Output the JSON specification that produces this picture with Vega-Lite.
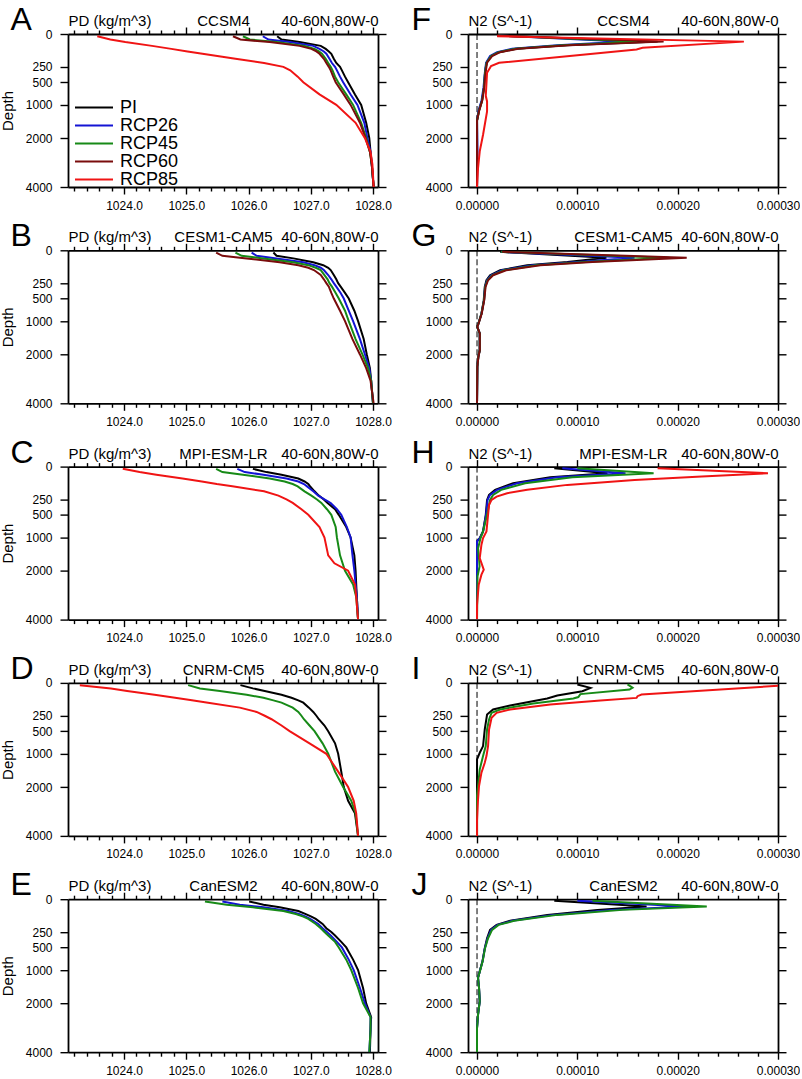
{
"$schema":"https://vega.github.io/schema/vega-lite/v6.json",
"padding":{"left":0,"top":3,"right":0,"bottom":0},
"background":"white",
"config":{"font":"Liberation Sans","view":{"stroke":null},
"axis":{"grid":false,"domainColor":"black","domainWidth":1.8,"tickColor":"black","tickWidth":1.4,"labelColor":"black","labelFont":"Liberation Sans","labelFontSize":12,"titleFont":"Liberation Sans","titleFontSize":15,"titleFontWeight":"normal","titleColor":"black","labelFlush":false,"labelOverlap":false}},
"columns":2,
"spacing":{"row":63.3,"column":90},
"bounds":"flush",
"resolve":{"scale":{"color":"independent"},"legend":{"color":"independent"}},
"datasets":{
"A":[
{"s":"PI","d":2,"v":1026.46},{"s":"PI","d":10,"v":1026.53},{"s":"PI","d":20,"v":1026.82},{"s":"PI","d":40,"v":1027.16},{"s":"PI","d":60,"v":1027.24},{"s":"PI","d":80,"v":1027.29},{"s":"PI","d":100,"v":1027.33},{"s":"PI","d":150,"v":1027.37},{"s":"PI","d":200,"v":1027.41},{"s":"PI","d":250,"v":1027.47},{"s":"PI","d":300,"v":1027.50},{"s":"PI","d":400,"v":1027.55},{"s":"PI","d":500,"v":1027.60},{"s":"PI","d":750,"v":1027.71},{"s":"PI","d":1000,"v":1027.81},{"s":"PI","d":1500,"v":1027.89},{"s":"PI","d":2000,"v":1027.94},{"s":"PI","d":2500,"v":1027.96},{"s":"PI","d":3000,"v":1027.98},{"s":"PI","d":4000,"v":1028.01},
{"s":"RCP26","d":2,"v":1026.23},{"s":"RCP26","d":10,"v":1026.32},{"s":"RCP26","d":20,"v":1026.66},{"s":"RCP26","d":40,"v":1027.04},{"s":"RCP26","d":60,"v":1027.14},{"s":"RCP26","d":80,"v":1027.21},{"s":"RCP26","d":100,"v":1027.25},{"s":"RCP26","d":150,"v":1027.30},{"s":"RCP26","d":200,"v":1027.34},{"s":"RCP26","d":250,"v":1027.39},{"s":"RCP26","d":300,"v":1027.42},{"s":"RCP26","d":400,"v":1027.47},{"s":"RCP26","d":500,"v":1027.52},{"s":"RCP26","d":750,"v":1027.64},{"s":"RCP26","d":1000,"v":1027.75},{"s":"RCP26","d":1500,"v":1027.86},{"s":"RCP26","d":2000,"v":1027.91},{"s":"RCP26","d":2500,"v":1027.96},{"s":"RCP26","d":3000,"v":1027.98},{"s":"RCP26","d":4000,"v":1028.01},
{"s":"RCP45","d":2,"v":1025.91},{"s":"RCP45","d":10,"v":1026.02},{"s":"RCP45","d":20,"v":1026.45},{"s":"RCP45","d":40,"v":1026.90},{"s":"RCP45","d":60,"v":1027.06},{"s":"RCP45","d":80,"v":1027.13},{"s":"RCP45","d":100,"v":1027.18},{"s":"RCP45","d":150,"v":1027.24},{"s":"RCP45","d":200,"v":1027.28},{"s":"RCP45","d":250,"v":1027.32},{"s":"RCP45","d":300,"v":1027.35},{"s":"RCP45","d":400,"v":1027.39},{"s":"RCP45","d":500,"v":1027.44},{"s":"RCP45","d":750,"v":1027.57},{"s":"RCP45","d":1000,"v":1027.68},{"s":"RCP45","d":1500,"v":1027.81},{"s":"RCP45","d":2000,"v":1027.89},{"s":"RCP45","d":2500,"v":1027.95},{"s":"RCP45","d":3000,"v":1027.98},{"s":"RCP45","d":4000,"v":1028.01},
{"s":"RCP60","d":2,"v":1025.75},{"s":"RCP60","d":10,"v":1025.87},{"s":"RCP60","d":20,"v":1026.34},{"s":"RCP60","d":40,"v":1026.82},{"s":"RCP60","d":60,"v":1027.01},{"s":"RCP60","d":80,"v":1027.09},{"s":"RCP60","d":100,"v":1027.14},{"s":"RCP60","d":150,"v":1027.21},{"s":"RCP60","d":200,"v":1027.25},{"s":"RCP60","d":250,"v":1027.29},{"s":"RCP60","d":300,"v":1027.32},{"s":"RCP60","d":400,"v":1027.36},{"s":"RCP60","d":500,"v":1027.40},{"s":"RCP60","d":750,"v":1027.53},{"s":"RCP60","d":1000,"v":1027.64},{"s":"RCP60","d":1500,"v":1027.79},{"s":"RCP60","d":2000,"v":1027.88},{"s":"RCP60","d":2500,"v":1027.95},{"s":"RCP60","d":3000,"v":1027.98},{"s":"RCP60","d":4000,"v":1028.01},
{"s":"RCP85","d":2,"v":1023.57},{"s":"RCP85","d":10,"v":1023.78},{"s":"RCP85","d":20,"v":1024.02},{"s":"RCP85","d":40,"v":1024.45},{"s":"RCP85","d":60,"v":1024.76},{"s":"RCP85","d":80,"v":1025.02},{"s":"RCP85","d":100,"v":1025.26},{"s":"RCP85","d":150,"v":1025.79},{"s":"RCP85","d":200,"v":1026.25},{"s":"RCP85","d":250,"v":1026.56},{"s":"RCP85","d":300,"v":1026.67},{"s":"RCP85","d":400,"v":1026.79},{"s":"RCP85","d":500,"v":1026.88},{"s":"RCP85","d":750,"v":1027.14},{"s":"RCP85","d":1000,"v":1027.41},{"s":"RCP85","d":1500,"v":1027.72},{"s":"RCP85","d":2000,"v":1027.87},{"s":"RCP85","d":2500,"v":1027.96},{"s":"RCP85","d":3000,"v":1027.99},{"s":"RCP85","d":4000,"v":1028.01}
],
"B":[
{"s":"PI","d":2,"v":1026.40},{"s":"PI","d":10,"v":1026.45},{"s":"PI","d":20,"v":1026.72},{"s":"PI","d":40,"v":1027.04},{"s":"PI","d":60,"v":1027.20},{"s":"PI","d":80,"v":1027.28},{"s":"PI","d":100,"v":1027.32},{"s":"PI","d":150,"v":1027.37},{"s":"PI","d":200,"v":1027.41},{"s":"PI","d":250,"v":1027.44},{"s":"PI","d":300,"v":1027.48},{"s":"PI","d":400,"v":1027.55},{"s":"PI","d":500,"v":1027.61},{"s":"PI","d":750,"v":1027.70},{"s":"PI","d":1000,"v":1027.76},{"s":"PI","d":1500,"v":1027.85},{"s":"PI","d":2000,"v":1027.90},{"s":"PI","d":2500,"v":1027.95},{"s":"PI","d":3000,"v":1027.97},{"s":"PI","d":4000,"v":1028.00},
{"s":"RCP26","d":2,"v":1026.05},{"s":"RCP26","d":10,"v":1026.13},{"s":"RCP26","d":20,"v":1026.45},{"s":"RCP26","d":40,"v":1026.88},{"s":"RCP26","d":60,"v":1027.06},{"s":"RCP26","d":80,"v":1027.16},{"s":"RCP26","d":100,"v":1027.21},{"s":"RCP26","d":150,"v":1027.28},{"s":"RCP26","d":200,"v":1027.33},{"s":"RCP26","d":250,"v":1027.37},{"s":"RCP26","d":300,"v":1027.41},{"s":"RCP26","d":400,"v":1027.48},{"s":"RCP26","d":500,"v":1027.53},{"s":"RCP26","d":750,"v":1027.61},{"s":"RCP26","d":1000,"v":1027.68},{"s":"RCP26","d":1500,"v":1027.79},{"s":"RCP26","d":2000,"v":1027.87},{"s":"RCP26","d":2500,"v":1027.94},{"s":"RCP26","d":3000,"v":1027.97},{"s":"RCP26","d":4000,"v":1028.00},
{"s":"RCP45","d":2,"v":1025.79},{"s":"RCP45","d":10,"v":1025.89},{"s":"RCP45","d":20,"v":1026.24},{"s":"RCP45","d":40,"v":1026.72},{"s":"RCP45","d":60,"v":1026.96},{"s":"RCP45","d":80,"v":1027.08},{"s":"RCP45","d":100,"v":1027.16},{"s":"RCP45","d":150,"v":1027.22},{"s":"RCP45","d":200,"v":1027.27},{"s":"RCP45","d":250,"v":1027.30},{"s":"RCP45","d":300,"v":1027.34},{"s":"RCP45","d":400,"v":1027.40},{"s":"RCP45","d":500,"v":1027.45},{"s":"RCP45","d":750,"v":1027.55},{"s":"RCP45","d":1000,"v":1027.61},{"s":"RCP45","d":1500,"v":1027.72},{"s":"RCP45","d":2000,"v":1027.83},{"s":"RCP45","d":2500,"v":1027.92},{"s":"RCP45","d":3000,"v":1027.97},{"s":"RCP45","d":4000,"v":1028.00},
{"s":"RCP60","d":2,"v":1025.48},{"s":"RCP60","d":10,"v":1025.58},{"s":"RCP60","d":20,"v":1025.97},{"s":"RCP60","d":40,"v":1026.50},{"s":"RCP60","d":60,"v":1026.80},{"s":"RCP60","d":80,"v":1026.96},{"s":"RCP60","d":100,"v":1027.05},{"s":"RCP60","d":150,"v":1027.16},{"s":"RCP60","d":200,"v":1027.21},{"s":"RCP60","d":250,"v":1027.25},{"s":"RCP60","d":300,"v":1027.29},{"s":"RCP60","d":400,"v":1027.33},{"s":"RCP60","d":500,"v":1027.37},{"s":"RCP60","d":750,"v":1027.47},{"s":"RCP60","d":1000,"v":1027.55},{"s":"RCP60","d":1500,"v":1027.67},{"s":"RCP60","d":2000,"v":1027.79},{"s":"RCP60","d":2500,"v":1027.89},{"s":"RCP60","d":3000,"v":1027.96},{"s":"RCP60","d":4000,"v":1028.01}
],
"C":[
{"s":"PI","d":2,"v":1026.07},{"s":"PI","d":10,"v":1026.29},{"s":"PI","d":20,"v":1026.53},{"s":"PI","d":40,"v":1026.80},{"s":"PI","d":60,"v":1026.90},{"s":"PI","d":80,"v":1026.96},{"s":"PI","d":100,"v":1026.99},{"s":"PI","d":150,"v":1027.06},{"s":"PI","d":200,"v":1027.13},{"s":"PI","d":250,"v":1027.21},{"s":"PI","d":300,"v":1027.27},{"s":"PI","d":400,"v":1027.39},{"s":"PI","d":500,"v":1027.45},{"s":"PI","d":750,"v":1027.57},{"s":"PI","d":1000,"v":1027.64},{"s":"PI","d":1500,"v":1027.70},{"s":"PI","d":2000,"v":1027.72},{"s":"PI","d":2500,"v":1027.73},{"s":"PI","d":3000,"v":1027.74},{"s":"PI","d":4000,"v":1027.76},
{"s":"RCP26","d":2,"v":1025.82},{"s":"RCP26","d":10,"v":1025.94},{"s":"RCP26","d":20,"v":1026.24},{"s":"RCP26","d":40,"v":1026.61},{"s":"RCP26","d":60,"v":1026.80},{"s":"RCP26","d":80,"v":1026.89},{"s":"RCP26","d":100,"v":1026.94},{"s":"RCP26","d":150,"v":1027.04},{"s":"RCP26","d":200,"v":1027.12},{"s":"RCP26","d":250,"v":1027.22},{"s":"RCP26","d":300,"v":1027.32},{"s":"RCP26","d":400,"v":1027.42},{"s":"RCP26","d":500,"v":1027.49},{"s":"RCP26","d":750,"v":1027.58},{"s":"RCP26","d":1000,"v":1027.64},{"s":"RCP26","d":1500,"v":1027.67},{"s":"RCP26","d":2000,"v":1027.70},{"s":"RCP26","d":2500,"v":1027.72},{"s":"RCP26","d":3000,"v":1027.74},{"s":"RCP26","d":4000,"v":1027.76},
{"s":"RCP45","d":2,"v":1025.48},{"s":"RCP45","d":10,"v":1025.58},{"s":"RCP45","d":20,"v":1025.91},{"s":"RCP45","d":40,"v":1026.34},{"s":"RCP45","d":60,"v":1026.58},{"s":"RCP45","d":80,"v":1026.71},{"s":"RCP45","d":100,"v":1026.79},{"s":"RCP45","d":150,"v":1026.90},{"s":"RCP45","d":200,"v":1027.01},{"s":"RCP45","d":250,"v":1027.10},{"s":"RCP45","d":300,"v":1027.17},{"s":"RCP45","d":400,"v":1027.26},{"s":"RCP45","d":500,"v":1027.33},{"s":"RCP45","d":750,"v":1027.40},{"s":"RCP45","d":1000,"v":1027.42},{"s":"RCP45","d":1500,"v":1027.47},{"s":"RCP45","d":2000,"v":1027.55},{"s":"RCP45","d":2500,"v":1027.68},{"s":"RCP45","d":3000,"v":1027.73},{"s":"RCP45","d":4000,"v":1027.76},
{"s":"RCP85","d":2,"v":1023.98},{"s":"RCP85","d":10,"v":1024.25},{"s":"RCP85","d":20,"v":1024.52},{"s":"RCP85","d":40,"v":1024.94},{"s":"RCP85","d":60,"v":1025.25},{"s":"RCP85","d":80,"v":1025.49},{"s":"RCP85","d":100,"v":1025.74},{"s":"RCP85","d":150,"v":1026.25},{"s":"RCP85","d":200,"v":1026.48},{"s":"RCP85","d":250,"v":1026.61},{"s":"RCP85","d":300,"v":1026.71},{"s":"RCP85","d":400,"v":1026.85},{"s":"RCP85","d":500,"v":1026.96},{"s":"RCP85","d":750,"v":1027.14},{"s":"RCP85","d":1000,"v":1027.22},{"s":"RCP85","d":1500,"v":1027.28},{"s":"RCP85","d":1750,"v":1027.38},{"s":"RCP85","d":2000,"v":1027.60},{"s":"RCP85","d":2500,"v":1027.71},{"s":"RCP85","d":3000,"v":1027.73},{"s":"RCP85","d":4000,"v":1027.76}
],
"D":[
{"s":"PI","d":2,"v":1025.87},{"s":"PI","d":10,"v":1026.07},{"s":"PI","d":20,"v":1026.26},{"s":"PI","d":40,"v":1026.53},{"s":"PI","d":60,"v":1026.69},{"s":"PI","d":80,"v":1026.80},{"s":"PI","d":100,"v":1026.88},{"s":"PI","d":150,"v":1026.97},{"s":"PI","d":200,"v":1027.04},{"s":"PI","d":250,"v":1027.09},{"s":"PI","d":300,"v":1027.13},{"s":"PI","d":400,"v":1027.22},{"s":"PI","d":500,"v":1027.28},{"s":"PI","d":750,"v":1027.39},{"s":"PI","d":1000,"v":1027.44},{"s":"PI","d":1500,"v":1027.49},{"s":"PI","d":2000,"v":1027.53},{"s":"PI","d":2500,"v":1027.60},{"s":"PI","d":3000,"v":1027.71},{"s":"PI","d":4000,"v":1027.76},
{"s":"RCP45","d":2,"v":1025.03},{"s":"RCP45","d":10,"v":1025.22},{"s":"RCP45","d":20,"v":1025.54},{"s":"RCP45","d":40,"v":1025.97},{"s":"RCP45","d":60,"v":1026.24},{"s":"RCP45","d":80,"v":1026.40},{"s":"RCP45","d":100,"v":1026.53},{"s":"RCP45","d":150,"v":1026.71},{"s":"RCP45","d":200,"v":1026.80},{"s":"RCP45","d":250,"v":1026.85},{"s":"RCP45","d":300,"v":1026.89},{"s":"RCP45","d":400,"v":1026.98},{"s":"RCP45","d":500,"v":1027.06},{"s":"RCP45","d":750,"v":1027.19},{"s":"RCP45","d":1000,"v":1027.28},{"s":"RCP45","d":1500,"v":1027.39},{"s":"RCP45","d":2000,"v":1027.52},{"s":"RCP45","d":2500,"v":1027.65},{"s":"RCP45","d":3000,"v":1027.72},{"s":"RCP45","d":4000,"v":1027.76},
{"s":"RCP85","d":2,"v":1023.29},{"s":"RCP85","d":10,"v":1023.79},{"s":"RCP85","d":20,"v":1024.05},{"s":"RCP85","d":40,"v":1024.49},{"s":"RCP85","d":60,"v":1024.82},{"s":"RCP85","d":80,"v":1025.09},{"s":"RCP85","d":100,"v":1025.35},{"s":"RCP85","d":150,"v":1025.86},{"s":"RCP85","d":200,"v":1026.13},{"s":"RCP85","d":250,"v":1026.26},{"s":"RCP85","d":300,"v":1026.37},{"s":"RCP85","d":400,"v":1026.53},{"s":"RCP85","d":500,"v":1026.66},{"s":"RCP85","d":750,"v":1026.98},{"s":"RCP85","d":1000,"v":1027.25},{"s":"RCP85","d":1500,"v":1027.44},{"s":"RCP85","d":2000,"v":1027.60},{"s":"RCP85","d":2500,"v":1027.69},{"s":"RCP85","d":3000,"v":1027.73},{"s":"RCP85","d":4000,"v":1027.76}
],
"E":[
{"s":"PI","d":2,"v":1026.01},{"s":"PI","d":10,"v":1026.24},{"s":"PI","d":20,"v":1026.50},{"s":"PI","d":40,"v":1026.80},{"s":"PI","d":60,"v":1026.92},{"s":"PI","d":80,"v":1027.01},{"s":"PI","d":100,"v":1027.08},{"s":"PI","d":150,"v":1027.19},{"s":"PI","d":200,"v":1027.25},{"s":"PI","d":250,"v":1027.33},{"s":"PI","d":300,"v":1027.39},{"s":"PI","d":400,"v":1027.49},{"s":"PI","d":500,"v":1027.57},{"s":"PI","d":750,"v":1027.68},{"s":"PI","d":1000,"v":1027.76},{"s":"PI","d":1500,"v":1027.84},{"s":"PI","d":2000,"v":1027.89},{"s":"PI","d":2500,"v":1027.97},{"s":"PI","d":3000,"v":1027.96},{"s":"PI","d":4000,"v":1027.95},
{"s":"RCP26","d":2,"v":1025.58},{"s":"RCP26","d":10,"v":1025.86},{"s":"RCP26","d":20,"v":1026.24},{"s":"RCP26","d":40,"v":1026.64},{"s":"RCP26","d":60,"v":1026.81},{"s":"RCP26","d":80,"v":1026.92},{"s":"RCP26","d":100,"v":1026.99},{"s":"RCP26","d":150,"v":1027.12},{"s":"RCP26","d":200,"v":1027.19},{"s":"RCP26","d":250,"v":1027.26},{"s":"RCP26","d":300,"v":1027.32},{"s":"RCP26","d":400,"v":1027.42},{"s":"RCP26","d":500,"v":1027.50},{"s":"RCP26","d":750,"v":1027.61},{"s":"RCP26","d":1000,"v":1027.69},{"s":"RCP26","d":1500,"v":1027.79},{"s":"RCP26","d":2000,"v":1027.87},{"s":"RCP26","d":2500,"v":1027.96},{"s":"RCP26","d":3000,"v":1027.96},{"s":"RCP26","d":4000,"v":1027.94},
{"s":"RCP45","d":2,"v":1025.30},{"s":"RCP45","d":10,"v":1025.65},{"s":"RCP45","d":20,"v":1026.07},{"s":"RCP45","d":40,"v":1026.56},{"s":"RCP45","d":60,"v":1026.76},{"s":"RCP45","d":80,"v":1026.88},{"s":"RCP45","d":100,"v":1026.96},{"s":"RCP45","d":150,"v":1027.08},{"s":"RCP45","d":200,"v":1027.16},{"s":"RCP45","d":250,"v":1027.22},{"s":"RCP45","d":300,"v":1027.28},{"s":"RCP45","d":400,"v":1027.39},{"s":"RCP45","d":500,"v":1027.45},{"s":"RCP45","d":750,"v":1027.57},{"s":"RCP45","d":1000,"v":1027.65},{"s":"RCP45","d":1500,"v":1027.76},{"s":"RCP45","d":2000,"v":1027.84},{"s":"RCP45","d":2500,"v":1027.96},{"s":"RCP45","d":3000,"v":1027.96},{"s":"RCP45","d":4000,"v":1027.94}
],
"F":[
{"s":"PI","d":1,"v":2.0e-5},{"s":"PI","d":18,"v":18.0e-5},{"s":"PI","d":36,"v":8.9e-5},{"s":"PI","d":59,"v":3.9e-5},{"s":"PI","d":86,"v":2.2e-5},{"s":"PI","d":122,"v":1.4e-5},{"s":"PI","d":197,"v":0.94e-5},{"s":"PI","d":336,"v":0.8e-5},{"s":"PI","d":596,"v":0.7e-5},{"s":"PI","d":892,"v":0.5e-5},{"s":"PI","d":1147,"v":0.2e-5},{"s":"PI","d":1430,"v":0},{"s":"PI","d":2500,"v":0},{"s":"PI","d":4000,"v":0},
{"s":"RCP26","d":1,"v":2.2e-5},{"s":"RCP26","d":18,"v":14.5e-5},{"s":"RCP26","d":36,"v":8.0e-5},{"s":"RCP26","d":59,"v":3.5e-5},{"s":"RCP26","d":86,"v":2.0e-5},{"s":"RCP26","d":122,"v":1.3e-5},{"s":"RCP26","d":197,"v":0.9e-5},{"s":"RCP26","d":336,"v":0.78e-5},{"s":"RCP26","d":596,"v":0.65e-5},{"s":"RCP26","d":892,"v":0.45e-5},{"s":"RCP26","d":1147,"v":0.15e-5},{"s":"RCP26","d":1430,"v":0},{"s":"RCP26","d":2500,"v":0.05e-5},{"s":"RCP26","d":4000,"v":0},
{"s":"RCP45","d":1,"v":2.1e-5},{"s":"RCP45","d":18,"v":16.0e-5},{"s":"RCP45","d":36,"v":8.5e-5},{"s":"RCP45","d":59,"v":3.8e-5},{"s":"RCP45","d":86,"v":2.15e-5},{"s":"RCP45","d":122,"v":1.4e-5},{"s":"RCP45","d":197,"v":0.95e-5},{"s":"RCP45","d":336,"v":0.8e-5},{"s":"RCP45","d":596,"v":0.7e-5},{"s":"RCP45","d":892,"v":0.5e-5},{"s":"RCP45","d":1147,"v":0.2e-5},{"s":"RCP45","d":1430,"v":0},{"s":"RCP45","d":4000,"v":0},
{"s":"RCP60","d":1,"v":2.0e-5},{"s":"RCP60","d":18,"v":18.6e-5},{"s":"RCP60","d":36,"v":9.2e-5},{"s":"RCP60","d":59,"v":4.1e-5},{"s":"RCP60","d":86,"v":2.3e-5},{"s":"RCP60","d":122,"v":1.5e-5},{"s":"RCP60","d":197,"v":1.0e-5},{"s":"RCP60","d":336,"v":0.85e-5},{"s":"RCP60","d":596,"v":0.72e-5},{"s":"RCP60","d":892,"v":0.52e-5},{"s":"RCP60","d":1147,"v":0.22e-5},{"s":"RCP60","d":1430,"v":0},{"s":"RCP60","d":4000,"v":0},
{"s":"RCP85","d":2,"v":2.0e-5},{"s":"RCP85","d":18,"v":26.6e-5},{"s":"RCP85","d":52,"v":16.5e-5},{"s":"RCP85","d":64,"v":15.9e-5},{"s":"RCP85","d":197,"v":2.2e-5},{"s":"RCP85","d":240,"v":1.4e-5},{"s":"RCP85","d":336,"v":1.0e-5},{"s":"RCP85","d":782,"v":0.87e-5},{"s":"RCP85","d":915,"v":1.0e-5},{"s":"RCP85","d":1175,"v":1.0e-5},{"s":"RCP85","d":1885,"v":0.6e-5},{"s":"RCP85","d":2480,"v":0.27e-5},{"s":"RCP85","d":3153,"v":0.1e-5},{"s":"RCP85","d":4000,"v":0}
],
"G":[
{"s":"PI","d":1,"v":2.3e-5},{"s":"PI","d":17,"v":12.9e-5},{"s":"PI","d":38.6,"v":9.0e-5},{"s":"PI","d":61,"v":5.0e-5},{"s":"PI","d":102,"v":2.3e-5},{"s":"PI","d":152,"v":1.3e-5},{"s":"PI","d":212,"v":0.94e-5},{"s":"PI","d":303,"v":0.77e-5},{"s":"PI","d":531,"v":0.67e-5},{"s":"PI","d":813,"v":0.44e-5},{"s":"PI","d":1060,"v":0.13e-5},{"s":"PI","d":1147,"v":0},{"s":"PI","d":1333,"v":0.27e-5},{"s":"PI","d":1850,"v":0.27e-5},{"s":"PI","d":2080,"v":0.13e-5},{"s":"PI","d":2446,"v":0.03e-5},{"s":"PI","d":4000,"v":0},
{"s":"RCP26","d":1,"v":2.4e-5},{"s":"RCP26","d":17,"v":15.7e-5},{"s":"RCP26","d":38.6,"v":10.0e-5},{"s":"RCP26","d":61,"v":5.5e-5},{"s":"RCP26","d":102,"v":2.5e-5},{"s":"RCP26","d":152,"v":1.4e-5},{"s":"RCP26","d":212,"v":1.0e-5},{"s":"RCP26","d":303,"v":0.8e-5},{"s":"RCP26","d":531,"v":0.7e-5},{"s":"RCP26","d":813,"v":0.45e-5},{"s":"RCP26","d":1060,"v":0.15e-5},{"s":"RCP26","d":1147,"v":0.02e-5},{"s":"RCP26","d":1333,"v":0.27e-5},{"s":"RCP26","d":1850,"v":0.27e-5},{"s":"RCP26","d":2080,"v":0.13e-5},{"s":"RCP26","d":2446,"v":0.03e-5},{"s":"RCP26","d":4000,"v":0},
{"s":"RCP45","d":1,"v":2.4e-5},{"s":"RCP45","d":17,"v":19.1e-5},{"s":"RCP45","d":38.6,"v":10.8e-5},{"s":"RCP45","d":61,"v":5.9e-5},{"s":"RCP45","d":102,"v":2.7e-5},{"s":"RCP45","d":152,"v":1.5e-5},{"s":"RCP45","d":212,"v":1.05e-5},{"s":"RCP45","d":303,"v":0.82e-5},{"s":"RCP45","d":531,"v":0.7e-5},{"s":"RCP45","d":813,"v":0.45e-5},{"s":"RCP45","d":1060,"v":0.15e-5},{"s":"RCP45","d":1147,"v":0.02e-5},{"s":"RCP45","d":1333,"v":0.27e-5},{"s":"RCP45","d":1850,"v":0.27e-5},{"s":"RCP45","d":2080,"v":0.13e-5},{"s":"RCP45","d":2446,"v":0.03e-5},{"s":"RCP45","d":4000,"v":0},
{"s":"RCP60","d":1,"v":2.5e-5},{"s":"RCP60","d":17,"v":20.9e-5},{"s":"RCP60","d":38.6,"v":11.5e-5},{"s":"RCP60","d":61,"v":6.3e-5},{"s":"RCP60","d":102,"v":2.9e-5},{"s":"RCP60","d":152,"v":1.6e-5},{"s":"RCP60","d":212,"v":1.1e-5},{"s":"RCP60","d":303,"v":0.85e-5},{"s":"RCP60","d":531,"v":0.72e-5},{"s":"RCP60","d":813,"v":0.47e-5},{"s":"RCP60","d":1060,"v":0.16e-5},{"s":"RCP60","d":1147,"v":0.03e-5},{"s":"RCP60","d":1333,"v":0.28e-5},{"s":"RCP60","d":1850,"v":0.28e-5},{"s":"RCP60","d":2080,"v":0.14e-5},{"s":"RCP60","d":2446,"v":0.03e-5},{"s":"RCP60","d":4000,"v":0}
],
"H":[
{"s":"PI","d":1,"v":7.7e-5},{"s":"PI","d":14,"v":13.0e-5},{"s":"PI","d":33,"v":7.3e-5},{"s":"PI","d":73,"v":3.6e-5},{"s":"PI","d":134,"v":1.8e-5},{"s":"PI","d":191,"v":1.2e-5},{"s":"PI","d":256,"v":1.0e-5},{"s":"PI","d":500,"v":0.87e-5},{"s":"PI","d":852,"v":0.6e-5},{"s":"PI","d":1014,"v":0.27e-5},{"s":"PI","d":1100,"v":0},{"s":"PI","d":4000,"v":0},
{"s":"RCP26","d":1,"v":8.5e-5},{"s":"RCP26","d":14,"v":14.8e-5},{"s":"RCP26","d":33,"v":8.0e-5},{"s":"RCP26","d":73,"v":4.0e-5},{"s":"RCP26","d":134,"v":2.0e-5},{"s":"RCP26","d":191,"v":1.3e-5},{"s":"RCP26","d":256,"v":1.05e-5},{"s":"RCP26","d":500,"v":0.9e-5},{"s":"RCP26","d":852,"v":0.6e-5},{"s":"RCP26","d":1014,"v":0.3e-5},{"s":"RCP26","d":1100,"v":0},{"s":"RCP26","d":4000,"v":0},
{"s":"RCP45","d":1,"v":10.0e-5},{"s":"RCP45","d":14,"v":17.6e-5},{"s":"RCP45","d":33,"v":9.5e-5},{"s":"RCP45","d":73,"v":4.8e-5},{"s":"RCP45","d":134,"v":2.4e-5},{"s":"RCP45","d":191,"v":1.6e-5},{"s":"RCP45","d":256,"v":1.3e-5},{"s":"RCP45","d":500,"v":1.0e-5},{"s":"RCP45","d":852,"v":0.6e-5},{"s":"RCP45","d":1014,"v":0.35e-5},{"s":"RCP45","d":1300,"v":0.1e-5},{"s":"RCP45","d":1600,"v":0.2e-5},{"s":"RCP45","d":1850,"v":0.25e-5},{"s":"RCP45","d":2200,"v":0.05e-5},{"s":"RCP45","d":4000,"v":0},
{"s":"RCP85","d":1,"v":18.0e-5},{"s":"RCP85","d":14,"v":29.0e-5},{"s":"RCP85","d":29,"v":22.4e-5},{"s":"RCP85","d":49,"v":15.7e-5},{"s":"RCP85","d":87,"v":9.0e-5},{"s":"RCP85","d":134,"v":5.0e-5},{"s":"RCP85","d":171,"v":3.0e-5},{"s":"RCP85","d":212,"v":1.95e-5},{"s":"RCP85","d":256,"v":1.45e-5},{"s":"RCP85","d":329,"v":1.2e-5},{"s":"RCP85","d":500,"v":1.1e-5},{"s":"RCP85","d":852,"v":0.94e-5},{"s":"RCP85","d":1014,"v":0.6e-5},{"s":"RCP85","d":1192,"v":0.44e-5},{"s":"RCP85","d":1584,"v":0.27e-5},{"s":"RCP85","d":1964,"v":0.67e-5},{"s":"RCP85","d":2139,"v":0.44e-5},{"s":"RCP85","d":2508,"v":0.17e-5},{"s":"RCP85","d":3322,"v":0},{"s":"RCP85","d":4000,"v":0}
],
"I":[
{"s":"PI","d":1,"v":10.0e-5},{"s":"PI","d":8.4,"v":11.3e-5},{"s":"PI","d":21,"v":10.5e-5},{"s":"PI","d":45,"v":8.0e-5},{"s":"PI","d":66,"v":7.0e-5},{"s":"PI","d":128,"v":3.3e-5},{"s":"PI","d":171,"v":1.6e-5},{"s":"PI","d":233,"v":1.0e-5},{"s":"PI","d":469,"v":0.77e-5},{"s":"PI","d":813,"v":0.6e-5},{"s":"PI","d":974,"v":0.27e-5},{"s":"PI","d":1147,"v":0},{"s":"PI","d":4000,"v":0},
{"s":"RCP45","d":1,"v":15.0e-5},{"s":"RCP45","d":8,"v":15.5e-5},{"s":"RCP45","d":14,"v":15.2e-5},{"s":"RCP45","d":36,"v":10.3e-5},{"s":"RCP45","d":55,"v":10.1e-5},{"s":"RCP45","d":66,"v":9.6e-5},{"s":"RCP45","d":108,"v":5.6e-5},{"s":"RCP45","d":171,"v":2.3e-5},{"s":"RCP45","d":212,"v":1.45e-5},{"s":"RCP45","d":303,"v":1.2e-5},{"s":"RCP45","d":469,"v":1.0e-5},{"s":"RCP45","d":813,"v":0.87e-5},{"s":"RCP45","d":1060,"v":0.6e-5},{"s":"RCP45","d":1430,"v":0.27e-5},{"s":"RCP45","d":1964,"v":0.1e-5},{"s":"RCP45","d":2300,"v":0},{"s":"RCP45","d":4000,"v":0},
{"s":"RCP85","d":2,"v":31.0e-5},{"s":"RCP85","d":39,"v":16.4e-5},{"s":"RCP85","d":49,"v":16.0e-5},{"s":"RCP85","d":61,"v":15.9e-5},{"s":"RCP85","d":81,"v":12.3e-5},{"s":"RCP85","d":118,"v":7.3e-5},{"s":"RCP85","d":171,"v":3.3e-5},{"s":"RCP85","d":212,"v":1.95e-5},{"s":"RCP85","d":279,"v":1.45e-5},{"s":"RCP85","d":469,"v":1.2e-5},{"s":"RCP85","d":813,"v":1.1e-5},{"s":"RCP85","d":1060,"v":0.94e-5},{"s":"RCP85","d":1239,"v":0.77e-5},{"s":"RCP85","d":1531,"v":0.44e-5},{"s":"RCP85","d":1964,"v":0.2e-5},{"s":"RCP85","d":2446,"v":0.1e-5},{"s":"RCP85","d":3300,"v":0},{"s":"RCP85","d":4000,"v":0}
],
"J":[
{"s":"PI","d":1,"v":7.7e-5},{"s":"PI","d":17,"v":16.9e-5},{"s":"PI","d":33,"v":12.0e-5},{"s":"PI","d":66,"v":7.0e-5},{"s":"PI","d":118,"v":3.3e-5},{"s":"PI","d":160,"v":1.95e-5},{"s":"PI","d":221,"v":1.3e-5},{"s":"PI","d":341,"v":1.0e-5},{"s":"PI","d":513,"v":0.77e-5},{"s":"PI","d":790,"v":0.54e-5},{"s":"PI","d":1033,"v":0.27e-5},{"s":"PI","d":1206,"v":0.1e-5},{"s":"PI","d":1500,"v":0.2e-5},{"s":"PI","d":1925,"v":0.27e-5},{"s":"PI","d":2410,"v":0.1e-5},{"s":"PI","d":2928,"v":0},{"s":"PI","d":4000,"v":0},
{"s":"RCP26","d":1,"v":10.0e-5},{"s":"RCP26","d":17,"v":20.9e-5},{"s":"RCP26","d":33,"v":13.5e-5},{"s":"RCP26","d":66,"v":7.6e-5},{"s":"RCP26","d":118,"v":3.5e-5},{"s":"RCP26","d":160,"v":2.05e-5},{"s":"RCP26","d":221,"v":1.4e-5},{"s":"RCP26","d":341,"v":1.05e-5},{"s":"RCP26","d":513,"v":0.78e-5},{"s":"RCP26","d":790,"v":0.55e-5},{"s":"RCP26","d":1033,"v":0.27e-5},{"s":"RCP26","d":1206,"v":0.1e-5},{"s":"RCP26","d":1500,"v":0.2e-5},{"s":"RCP26","d":1925,"v":0.27e-5},{"s":"RCP26","d":2410,"v":0.1e-5},{"s":"RCP26","d":2928,"v":0},{"s":"RCP26","d":4000,"v":0},
{"s":"RCP45","d":1,"v":11.5e-5},{"s":"RCP45","d":17,"v":22.9e-5},{"s":"RCP45","d":33,"v":14.5e-5},{"s":"RCP45","d":66,"v":8.0e-5},{"s":"RCP45","d":118,"v":3.7e-5},{"s":"RCP45","d":160,"v":2.15e-5},{"s":"RCP45","d":221,"v":1.5e-5},{"s":"RCP45","d":341,"v":1.1e-5},{"s":"RCP45","d":513,"v":0.8e-5},{"s":"RCP45","d":790,"v":0.56e-5},{"s":"RCP45","d":1033,"v":0.28e-5},{"s":"RCP45","d":1206,"v":0.1e-5},{"s":"RCP45","d":1500,"v":0.2e-5},{"s":"RCP45","d":1925,"v":0.27e-5},{"s":"RCP45","d":2410,"v":0.1e-5},{"s":"RCP45","d":2928,"v":0},{"s":"RCP45","d":4000,"v":0}
]
},
"concat":[
{"width":310,"height":153,"data":{"name":"A"},"resolve":{"axis":{"x":"independent","y":"independent"}},"layer":[
{"mark":{"type":"line","strokeWidth":2,"clip":true},"encoding":{
"x":{"field":"v","type":"quantitative","scale":{"domain":[1023.1,1028.08],"nice":false,"zero":false},"axis":{"orient":"bottom","values":[1023.2,1023.4,1023.6,1023.8,1024,1024.2,1024.4,1024.6,1024.8,1025,1025.2,1025.4,1025.6,1025.8,1026,1026.2,1026.4,1026.6,1026.8,1027,1027.2,1027.4,1027.6,1027.8,1028],"labelExpr":"datum.value % 1 === 0 ? format(datum.value, '.1f') : ''","tickSize":{"condition":{"test":"datum.value % 1 === 0","value":7},"value":4},"labelPadding":6,"title":"A","titleX":-58,"titleY":-157.5,"titleAlign":"left","titleBaseline":"alphabetic","titleAngle":0,"titleFontSize":32}},
"y":{"field":"d","type":"quantitative","scale":{"type":"pow","exponent":0.555,"domain":[0,4000],"reverse":true,"nice":false,"zero":false},"axis":{"orient":"left","values":[0,250,500,1000,2000,4000],"format":"d","tickSize":8,"labelPadding":8,"title":"Depth","titleX":-56,"titleY":76.5,"titleAngle":270,"titleAlign":"center","titleBaseline":"alphabetic"}},
"color":{"field":"s","type":"nominal","scale":{"domain":["PI","RCP26","RCP45","RCP60","RCP85"],"range":["#000000","#1414d4","#178a17","#7a0c0c","#f01414"]},"legend":{"orient":"none","legendX":6,"legendY":64.5,"title":null,"symbolType":"stroke","symbolSize":1444,"symbolStrokeWidth":2,"clipHeight":18,"rowPadding":0,"padding":0,"labelFontSize":18,"labelFont":"Liberation Sans","labelColor":"black","labelOffset":6}},
"order":{"field":"d","type":"quantitative"}}},
{"mark":{"type":"point","opacity":0},"encoding":{
"x":{"field":"v","type":"quantitative","scale":{"domain":[1023.1,1028.08],"nice":false,"zero":false},"axis":{"orient":"top","values":[1023.2,1023.4,1023.6,1023.8,1024,1024.2,1024.4,1024.6,1024.8,1025,1025.2,1025.4,1025.6,1025.8,1026,1026.2,1026.4,1026.6,1026.8,1027,1027.2,1027.4,1027.6,1027.8,1028],"labels":false,"tickSize":{"condition":{"test":"datum.value % 1 === 0","value":7},"value":4},"title":"CCSM4","titleX":155,"titleY":-8.5,"titleAlign":"center","titleBaseline":"alphabetic","titleAngle":0}},
"y":{"field":"d","type":"quantitative","scale":{"type":"pow","exponent":0.555,"domain":[0,4000],"reverse":true,"nice":false,"zero":false},"axis":{"orient":"right","values":[0,250,500,1000,2000,4000],"labels":false,"tickSize":8,"title":"40-60N,80W-0","titleX":0,"titleY":-8.5,"titleAlign":"right","titleBaseline":"alphabetic","titleAngle":0}}}},
{"mark":{"type":"point","opacity":0},"encoding":{
"x":{"field":"v","type":"quantitative","scale":{"domain":[1023.1,1028.08],"nice":false,"zero":false},"axis":{"orient":"top","domain":false,"ticks":false,"labels":false,"title":"PD (kg/m^3)","titleX":0,"titleY":-8.5,"titleAlign":"left","titleBaseline":"alphabetic","titleAngle":0}},
"y":{"field":"d","type":"quantitative","scale":{"type":"pow","exponent":0.555,"domain":[0,4000],"reverse":true,"nice":false,"zero":false},"axis":null}}}
]},
{"width":310,"height":153,"data":{"name":"F"},"resolve":{"axis":{"x":"independent","y":"independent"}},"layer":[
{"data":{"values":[{"v":0}]},"mark":{"type":"rule","strokeDash":[6,3],"strokeWidth":1,"color":"black"},"encoding":{
"x":{"field":"v","type":"quantitative","scale":{"domain":[-0.000009,0.0003],"nice":false,"zero":false},"axis":{"orient":"top","domain":false,"ticks":false,"labels":false,"title":"N2 (S^-1)","titleX":0,"titleY":-8.5,"titleAlign":"left","titleBaseline":"alphabetic","titleAngle":0}}}},
{"mark":{"type":"line","strokeWidth":2,"clip":true},"encoding":{
"x":{"field":"v","type":"quantitative","scale":{"domain":[-0.000009,0.0003],"nice":false,"zero":false},"axis":{"orient":"bottom","values":[0,0.00002,0.00004,0.00006,0.00008,0.0001,0.00012,0.00014,0.00016,0.00018,0.0002,0.00022,0.00024,0.00026,0.00028,0.0003],"labelExpr":"abs(datum.value*10000 - round(datum.value*10000)) < 1e-6 ? format(datum.value, '.5f') : ''","tickSize":{"condition":{"test":"abs(datum.value*10000 - round(datum.value*10000)) < 1e-6","value":7},"value":4},"labelPadding":6,"title":"F","titleX":-57,"titleY":-157.5,"titleAlign":"left","titleBaseline":"alphabetic","titleAngle":0,"titleFontSize":32}},
"y":{"field":"d","type":"quantitative","scale":{"type":"pow","exponent":0.555,"domain":[0,4000],"reverse":true,"nice":false,"zero":false},"axis":{"orient":"left","values":[0,250,500,1000,2000,4000],"format":"d","tickSize":8,"labelPadding":8,"title":null}},
"color":{"field":"s","type":"nominal","scale":{"domain":["PI","RCP26","RCP45","RCP60","RCP85"],"range":["#000000","#1414d4","#178a17","#7a0c0c","#f01414"]},"legend":null},
"order":{"field":"d","type":"quantitative"}}},
{"mark":{"type":"point","opacity":0},"encoding":{
"x":{"field":"v","type":"quantitative","scale":{"domain":[-0.000009,0.0003],"nice":false,"zero":false},"axis":{"orient":"top","values":[0,0.00002,0.00004,0.00006,0.00008,0.0001,0.00012,0.00014,0.00016,0.00018,0.0002,0.00022,0.00024,0.00026,0.00028,0.0003],"labels":false,"tickSize":{"condition":{"test":"abs(datum.value*10000 - round(datum.value*10000)) < 1e-6","value":7},"value":4},"title":"CCSM4","titleX":155,"titleY":-8.5,"titleAlign":"center","titleBaseline":"alphabetic","titleAngle":0}},
"y":{"field":"d","type":"quantitative","scale":{"type":"pow","exponent":0.555,"domain":[0,4000],"reverse":true,"nice":false,"zero":false},"axis":{"orient":"right","values":[0,250,500,1000,2000,4000],"labels":false,"tickSize":8,"title":"40-60N,80W-0","titleX":0,"titleY":-8.5,"titleAlign":"right","titleBaseline":"alphabetic","titleAngle":0}}}}
]},
{"width":310,"height":153,"data":{"name":"B"},"resolve":{"axis":{"x":"independent","y":"independent"}},"layer":[
{"mark":{"type":"line","strokeWidth":2,"clip":true},"encoding":{
"x":{"field":"v","type":"quantitative","scale":{"domain":[1023.1,1028.08],"nice":false,"zero":false},"axis":{"orient":"bottom","values":[1023.2,1023.4,1023.6,1023.8,1024,1024.2,1024.4,1024.6,1024.8,1025,1025.2,1025.4,1025.6,1025.8,1026,1026.2,1026.4,1026.6,1026.8,1027,1027.2,1027.4,1027.6,1027.8,1028],"labelExpr":"datum.value % 1 === 0 ? format(datum.value, '.1f') : ''","tickSize":{"condition":{"test":"datum.value % 1 === 0","value":7},"value":4},"labelPadding":6,"title":"B","titleX":-58,"titleY":-157.5,"titleAlign":"left","titleBaseline":"alphabetic","titleAngle":0,"titleFontSize":32}},
"y":{"field":"d","type":"quantitative","scale":{"type":"pow","exponent":0.555,"domain":[0,4000],"reverse":true,"nice":false,"zero":false},"axis":{"orient":"left","values":[0,250,500,1000,2000,4000],"format":"d","tickSize":8,"labelPadding":8,"title":"Depth","titleX":-56,"titleY":76.5,"titleAngle":270,"titleAlign":"center","titleBaseline":"alphabetic"}},
"color":{"field":"s","type":"nominal","scale":{"domain":["PI","RCP26","RCP45","RCP60","RCP85"],"range":["#000000","#1414d4","#178a17","#7a0c0c","#f01414"]},"legend":null},
"order":{"field":"d","type":"quantitative"}}},
{"mark":{"type":"point","opacity":0},"encoding":{
"x":{"field":"v","type":"quantitative","scale":{"domain":[1023.1,1028.08],"nice":false,"zero":false},"axis":{"orient":"top","values":[1023.2,1023.4,1023.6,1023.8,1024,1024.2,1024.4,1024.6,1024.8,1025,1025.2,1025.4,1025.6,1025.8,1026,1026.2,1026.4,1026.6,1026.8,1027,1027.2,1027.4,1027.6,1027.8,1028],"labels":false,"tickSize":{"condition":{"test":"datum.value % 1 === 0","value":7},"value":4},"title":"CESM1-CAM5","titleX":155,"titleY":-8.5,"titleAlign":"center","titleBaseline":"alphabetic","titleAngle":0}},
"y":{"field":"d","type":"quantitative","scale":{"type":"pow","exponent":0.555,"domain":[0,4000],"reverse":true,"nice":false,"zero":false},"axis":{"orient":"right","values":[0,250,500,1000,2000,4000],"labels":false,"tickSize":8,"title":"40-60N,80W-0","titleX":0,"titleY":-8.5,"titleAlign":"right","titleBaseline":"alphabetic","titleAngle":0}}}},
{"mark":{"type":"point","opacity":0},"encoding":{
"x":{"field":"v","type":"quantitative","scale":{"domain":[1023.1,1028.08],"nice":false,"zero":false},"axis":{"orient":"top","domain":false,"ticks":false,"labels":false,"title":"PD (kg/m^3)","titleX":0,"titleY":-8.5,"titleAlign":"left","titleBaseline":"alphabetic","titleAngle":0}},
"y":{"field":"d","type":"quantitative","scale":{"type":"pow","exponent":0.555,"domain":[0,4000],"reverse":true,"nice":false,"zero":false},"axis":null}}}
]},
{"width":310,"height":153,"data":{"name":"G"},"resolve":{"axis":{"x":"independent","y":"independent"}},"layer":[
{"data":{"values":[{"v":0}]},"mark":{"type":"rule","strokeDash":[6,3],"strokeWidth":1,"color":"black"},"encoding":{
"x":{"field":"v","type":"quantitative","scale":{"domain":[-0.000009,0.0003],"nice":false,"zero":false},"axis":{"orient":"top","domain":false,"ticks":false,"labels":false,"title":"N2 (S^-1)","titleX":0,"titleY":-8.5,"titleAlign":"left","titleBaseline":"alphabetic","titleAngle":0}}}},
{"mark":{"type":"line","strokeWidth":2,"clip":true},"encoding":{
"x":{"field":"v","type":"quantitative","scale":{"domain":[-0.000009,0.0003],"nice":false,"zero":false},"axis":{"orient":"bottom","values":[0,0.00002,0.00004,0.00006,0.00008,0.0001,0.00012,0.00014,0.00016,0.00018,0.0002,0.00022,0.00024,0.00026,0.00028,0.0003],"labelExpr":"abs(datum.value*10000 - round(datum.value*10000)) < 1e-6 ? format(datum.value, '.5f') : ''","tickSize":{"condition":{"test":"abs(datum.value*10000 - round(datum.value*10000)) < 1e-6","value":7},"value":4},"labelPadding":6,"title":"G","titleX":-57,"titleY":-157.5,"titleAlign":"left","titleBaseline":"alphabetic","titleAngle":0,"titleFontSize":32}},
"y":{"field":"d","type":"quantitative","scale":{"type":"pow","exponent":0.555,"domain":[0,4000],"reverse":true,"nice":false,"zero":false},"axis":{"orient":"left","values":[0,250,500,1000,2000,4000],"format":"d","tickSize":8,"labelPadding":8,"title":null}},
"color":{"field":"s","type":"nominal","scale":{"domain":["PI","RCP26","RCP45","RCP60","RCP85"],"range":["#000000","#1414d4","#178a17","#7a0c0c","#f01414"]},"legend":null},
"order":{"field":"d","type":"quantitative"}}},
{"mark":{"type":"point","opacity":0},"encoding":{
"x":{"field":"v","type":"quantitative","scale":{"domain":[-0.000009,0.0003],"nice":false,"zero":false},"axis":{"orient":"top","values":[0,0.00002,0.00004,0.00006,0.00008,0.0001,0.00012,0.00014,0.00016,0.00018,0.0002,0.00022,0.00024,0.00026,0.00028,0.0003],"labels":false,"tickSize":{"condition":{"test":"abs(datum.value*10000 - round(datum.value*10000)) < 1e-6","value":7},"value":4},"title":"CESM1-CAM5","titleX":155,"titleY":-8.5,"titleAlign":"center","titleBaseline":"alphabetic","titleAngle":0}},
"y":{"field":"d","type":"quantitative","scale":{"type":"pow","exponent":0.555,"domain":[0,4000],"reverse":true,"nice":false,"zero":false},"axis":{"orient":"right","values":[0,250,500,1000,2000,4000],"labels":false,"tickSize":8,"title":"40-60N,80W-0","titleX":0,"titleY":-8.5,"titleAlign":"right","titleBaseline":"alphabetic","titleAngle":0}}}}
]},
{"width":310,"height":153,"data":{"name":"C"},"resolve":{"axis":{"x":"independent","y":"independent"}},"layer":[
{"mark":{"type":"line","strokeWidth":2,"clip":true},"encoding":{
"x":{"field":"v","type":"quantitative","scale":{"domain":[1023.1,1028.08],"nice":false,"zero":false},"axis":{"orient":"bottom","values":[1023.2,1023.4,1023.6,1023.8,1024,1024.2,1024.4,1024.6,1024.8,1025,1025.2,1025.4,1025.6,1025.8,1026,1026.2,1026.4,1026.6,1026.8,1027,1027.2,1027.4,1027.6,1027.8,1028],"labelExpr":"datum.value % 1 === 0 ? format(datum.value, '.1f') : ''","tickSize":{"condition":{"test":"datum.value % 1 === 0","value":7},"value":4},"labelPadding":6,"title":"C","titleX":-58,"titleY":-157.5,"titleAlign":"left","titleBaseline":"alphabetic","titleAngle":0,"titleFontSize":32}},
"y":{"field":"d","type":"quantitative","scale":{"type":"pow","exponent":0.555,"domain":[0,4000],"reverse":true,"nice":false,"zero":false},"axis":{"orient":"left","values":[0,250,500,1000,2000,4000],"format":"d","tickSize":8,"labelPadding":8,"title":"Depth","titleX":-56,"titleY":76.5,"titleAngle":270,"titleAlign":"center","titleBaseline":"alphabetic"}},
"color":{"field":"s","type":"nominal","scale":{"domain":["PI","RCP26","RCP45","RCP60","RCP85"],"range":["#000000","#1414d4","#178a17","#7a0c0c","#f01414"]},"legend":null},
"order":{"field":"d","type":"quantitative"}}},
{"mark":{"type":"point","opacity":0},"encoding":{
"x":{"field":"v","type":"quantitative","scale":{"domain":[1023.1,1028.08],"nice":false,"zero":false},"axis":{"orient":"top","values":[1023.2,1023.4,1023.6,1023.8,1024,1024.2,1024.4,1024.6,1024.8,1025,1025.2,1025.4,1025.6,1025.8,1026,1026.2,1026.4,1026.6,1026.8,1027,1027.2,1027.4,1027.6,1027.8,1028],"labels":false,"tickSize":{"condition":{"test":"datum.value % 1 === 0","value":7},"value":4},"title":"MPI-ESM-LR","titleX":155,"titleY":-8.5,"titleAlign":"center","titleBaseline":"alphabetic","titleAngle":0}},
"y":{"field":"d","type":"quantitative","scale":{"type":"pow","exponent":0.555,"domain":[0,4000],"reverse":true,"nice":false,"zero":false},"axis":{"orient":"right","values":[0,250,500,1000,2000,4000],"labels":false,"tickSize":8,"title":"40-60N,80W-0","titleX":0,"titleY":-8.5,"titleAlign":"right","titleBaseline":"alphabetic","titleAngle":0}}}},
{"mark":{"type":"point","opacity":0},"encoding":{
"x":{"field":"v","type":"quantitative","scale":{"domain":[1023.1,1028.08],"nice":false,"zero":false},"axis":{"orient":"top","domain":false,"ticks":false,"labels":false,"title":"PD (kg/m^3)","titleX":0,"titleY":-8.5,"titleAlign":"left","titleBaseline":"alphabetic","titleAngle":0}},
"y":{"field":"d","type":"quantitative","scale":{"type":"pow","exponent":0.555,"domain":[0,4000],"reverse":true,"nice":false,"zero":false},"axis":null}}}
]},
{"width":310,"height":153,"data":{"name":"H"},"resolve":{"axis":{"x":"independent","y":"independent"}},"layer":[
{"data":{"values":[{"v":0}]},"mark":{"type":"rule","strokeDash":[6,3],"strokeWidth":1,"color":"black"},"encoding":{
"x":{"field":"v","type":"quantitative","scale":{"domain":[-0.000009,0.0003],"nice":false,"zero":false},"axis":{"orient":"top","domain":false,"ticks":false,"labels":false,"title":"N2 (S^-1)","titleX":0,"titleY":-8.5,"titleAlign":"left","titleBaseline":"alphabetic","titleAngle":0}}}},
{"mark":{"type":"line","strokeWidth":2,"clip":true},"encoding":{
"x":{"field":"v","type":"quantitative","scale":{"domain":[-0.000009,0.0003],"nice":false,"zero":false},"axis":{"orient":"bottom","values":[0,0.00002,0.00004,0.00006,0.00008,0.0001,0.00012,0.00014,0.00016,0.00018,0.0002,0.00022,0.00024,0.00026,0.00028,0.0003],"labelExpr":"abs(datum.value*10000 - round(datum.value*10000)) < 1e-6 ? format(datum.value, '.5f') : ''","tickSize":{"condition":{"test":"abs(datum.value*10000 - round(datum.value*10000)) < 1e-6","value":7},"value":4},"labelPadding":6,"title":"H","titleX":-57,"titleY":-157.5,"titleAlign":"left","titleBaseline":"alphabetic","titleAngle":0,"titleFontSize":32}},
"y":{"field":"d","type":"quantitative","scale":{"type":"pow","exponent":0.555,"domain":[0,4000],"reverse":true,"nice":false,"zero":false},"axis":{"orient":"left","values":[0,250,500,1000,2000,4000],"format":"d","tickSize":8,"labelPadding":8,"title":null}},
"color":{"field":"s","type":"nominal","scale":{"domain":["PI","RCP26","RCP45","RCP60","RCP85"],"range":["#000000","#1414d4","#178a17","#7a0c0c","#f01414"]},"legend":null},
"order":{"field":"d","type":"quantitative"}}},
{"mark":{"type":"point","opacity":0},"encoding":{
"x":{"field":"v","type":"quantitative","scale":{"domain":[-0.000009,0.0003],"nice":false,"zero":false},"axis":{"orient":"top","values":[0,0.00002,0.00004,0.00006,0.00008,0.0001,0.00012,0.00014,0.00016,0.00018,0.0002,0.00022,0.00024,0.00026,0.00028,0.0003],"labels":false,"tickSize":{"condition":{"test":"abs(datum.value*10000 - round(datum.value*10000)) < 1e-6","value":7},"value":4},"title":"MPI-ESM-LR","titleX":155,"titleY":-8.5,"titleAlign":"center","titleBaseline":"alphabetic","titleAngle":0}},
"y":{"field":"d","type":"quantitative","scale":{"type":"pow","exponent":0.555,"domain":[0,4000],"reverse":true,"nice":false,"zero":false},"axis":{"orient":"right","values":[0,250,500,1000,2000,4000],"labels":false,"tickSize":8,"title":"40-60N,80W-0","titleX":0,"titleY":-8.5,"titleAlign":"right","titleBaseline":"alphabetic","titleAngle":0}}}}
]},
{"width":310,"height":153,"data":{"name":"D"},"resolve":{"axis":{"x":"independent","y":"independent"}},"layer":[
{"mark":{"type":"line","strokeWidth":2,"clip":true},"encoding":{
"x":{"field":"v","type":"quantitative","scale":{"domain":[1023.1,1028.08],"nice":false,"zero":false},"axis":{"orient":"bottom","values":[1023.2,1023.4,1023.6,1023.8,1024,1024.2,1024.4,1024.6,1024.8,1025,1025.2,1025.4,1025.6,1025.8,1026,1026.2,1026.4,1026.6,1026.8,1027,1027.2,1027.4,1027.6,1027.8,1028],"labelExpr":"datum.value % 1 === 0 ? format(datum.value, '.1f') : ''","tickSize":{"condition":{"test":"datum.value % 1 === 0","value":7},"value":4},"labelPadding":6,"title":"D","titleX":-58,"titleY":-157.5,"titleAlign":"left","titleBaseline":"alphabetic","titleAngle":0,"titleFontSize":32}},
"y":{"field":"d","type":"quantitative","scale":{"type":"pow","exponent":0.555,"domain":[0,4000],"reverse":true,"nice":false,"zero":false},"axis":{"orient":"left","values":[0,250,500,1000,2000,4000],"format":"d","tickSize":8,"labelPadding":8,"title":"Depth","titleX":-56,"titleY":76.5,"titleAngle":270,"titleAlign":"center","titleBaseline":"alphabetic"}},
"color":{"field":"s","type":"nominal","scale":{"domain":["PI","RCP26","RCP45","RCP60","RCP85"],"range":["#000000","#1414d4","#178a17","#7a0c0c","#f01414"]},"legend":null},
"order":{"field":"d","type":"quantitative"}}},
{"mark":{"type":"point","opacity":0},"encoding":{
"x":{"field":"v","type":"quantitative","scale":{"domain":[1023.1,1028.08],"nice":false,"zero":false},"axis":{"orient":"top","values":[1023.2,1023.4,1023.6,1023.8,1024,1024.2,1024.4,1024.6,1024.8,1025,1025.2,1025.4,1025.6,1025.8,1026,1026.2,1026.4,1026.6,1026.8,1027,1027.2,1027.4,1027.6,1027.8,1028],"labels":false,"tickSize":{"condition":{"test":"datum.value % 1 === 0","value":7},"value":4},"title":"CNRM-CM5","titleX":155,"titleY":-8.5,"titleAlign":"center","titleBaseline":"alphabetic","titleAngle":0}},
"y":{"field":"d","type":"quantitative","scale":{"type":"pow","exponent":0.555,"domain":[0,4000],"reverse":true,"nice":false,"zero":false},"axis":{"orient":"right","values":[0,250,500,1000,2000,4000],"labels":false,"tickSize":8,"title":"40-60N,80W-0","titleX":0,"titleY":-8.5,"titleAlign":"right","titleBaseline":"alphabetic","titleAngle":0}}}},
{"mark":{"type":"point","opacity":0},"encoding":{
"x":{"field":"v","type":"quantitative","scale":{"domain":[1023.1,1028.08],"nice":false,"zero":false},"axis":{"orient":"top","domain":false,"ticks":false,"labels":false,"title":"PD (kg/m^3)","titleX":0,"titleY":-8.5,"titleAlign":"left","titleBaseline":"alphabetic","titleAngle":0}},
"y":{"field":"d","type":"quantitative","scale":{"type":"pow","exponent":0.555,"domain":[0,4000],"reverse":true,"nice":false,"zero":false},"axis":null}}}
]},
{"width":310,"height":153,"data":{"name":"I"},"resolve":{"axis":{"x":"independent","y":"independent"}},"layer":[
{"data":{"values":[{"v":0}]},"mark":{"type":"rule","strokeDash":[6,3],"strokeWidth":1,"color":"black"},"encoding":{
"x":{"field":"v","type":"quantitative","scale":{"domain":[-0.000009,0.0003],"nice":false,"zero":false},"axis":{"orient":"top","domain":false,"ticks":false,"labels":false,"title":"N2 (S^-1)","titleX":0,"titleY":-8.5,"titleAlign":"left","titleBaseline":"alphabetic","titleAngle":0}}}},
{"mark":{"type":"line","strokeWidth":2,"clip":true},"encoding":{
"x":{"field":"v","type":"quantitative","scale":{"domain":[-0.000009,0.0003],"nice":false,"zero":false},"axis":{"orient":"bottom","values":[0,0.00002,0.00004,0.00006,0.00008,0.0001,0.00012,0.00014,0.00016,0.00018,0.0002,0.00022,0.00024,0.00026,0.00028,0.0003],"labelExpr":"abs(datum.value*10000 - round(datum.value*10000)) < 1e-6 ? format(datum.value, '.5f') : ''","tickSize":{"condition":{"test":"abs(datum.value*10000 - round(datum.value*10000)) < 1e-6","value":7},"value":4},"labelPadding":6,"title":"I","titleX":-57,"titleY":-157.5,"titleAlign":"left","titleBaseline":"alphabetic","titleAngle":0,"titleFontSize":32}},
"y":{"field":"d","type":"quantitative","scale":{"type":"pow","exponent":0.555,"domain":[0,4000],"reverse":true,"nice":false,"zero":false},"axis":{"orient":"left","values":[0,250,500,1000,2000,4000],"format":"d","tickSize":8,"labelPadding":8,"title":null}},
"color":{"field":"s","type":"nominal","scale":{"domain":["PI","RCP26","RCP45","RCP60","RCP85"],"range":["#000000","#1414d4","#178a17","#7a0c0c","#f01414"]},"legend":null},
"order":{"field":"d","type":"quantitative"}}},
{"mark":{"type":"point","opacity":0},"encoding":{
"x":{"field":"v","type":"quantitative","scale":{"domain":[-0.000009,0.0003],"nice":false,"zero":false},"axis":{"orient":"top","values":[0,0.00002,0.00004,0.00006,0.00008,0.0001,0.00012,0.00014,0.00016,0.00018,0.0002,0.00022,0.00024,0.00026,0.00028,0.0003],"labels":false,"tickSize":{"condition":{"test":"abs(datum.value*10000 - round(datum.value*10000)) < 1e-6","value":7},"value":4},"title":"CNRM-CM5","titleX":155,"titleY":-8.5,"titleAlign":"center","titleBaseline":"alphabetic","titleAngle":0}},
"y":{"field":"d","type":"quantitative","scale":{"type":"pow","exponent":0.555,"domain":[0,4000],"reverse":true,"nice":false,"zero":false},"axis":{"orient":"right","values":[0,250,500,1000,2000,4000],"labels":false,"tickSize":8,"title":"40-60N,80W-0","titleX":0,"titleY":-8.5,"titleAlign":"right","titleBaseline":"alphabetic","titleAngle":0}}}}
]},
{"width":310,"height":153,"data":{"name":"E"},"resolve":{"axis":{"x":"independent","y":"independent"}},"layer":[
{"mark":{"type":"line","strokeWidth":2,"clip":true},"encoding":{
"x":{"field":"v","type":"quantitative","scale":{"domain":[1023.1,1028.08],"nice":false,"zero":false},"axis":{"orient":"bottom","values":[1023.2,1023.4,1023.6,1023.8,1024,1024.2,1024.4,1024.6,1024.8,1025,1025.2,1025.4,1025.6,1025.8,1026,1026.2,1026.4,1026.6,1026.8,1027,1027.2,1027.4,1027.6,1027.8,1028],"labelExpr":"datum.value % 1 === 0 ? format(datum.value, '.1f') : ''","tickSize":{"condition":{"test":"datum.value % 1 === 0","value":7},"value":4},"labelPadding":6,"title":"E","titleX":-58,"titleY":-157.5,"titleAlign":"left","titleBaseline":"alphabetic","titleAngle":0,"titleFontSize":32}},
"y":{"field":"d","type":"quantitative","scale":{"type":"pow","exponent":0.555,"domain":[0,4000],"reverse":true,"nice":false,"zero":false},"axis":{"orient":"left","values":[0,250,500,1000,2000,4000],"format":"d","tickSize":8,"labelPadding":8,"title":"Depth","titleX":-56,"titleY":76.5,"titleAngle":270,"titleAlign":"center","titleBaseline":"alphabetic"}},
"color":{"field":"s","type":"nominal","scale":{"domain":["PI","RCP26","RCP45","RCP60","RCP85"],"range":["#000000","#1414d4","#178a17","#7a0c0c","#f01414"]},"legend":null},
"order":{"field":"d","type":"quantitative"}}},
{"mark":{"type":"point","opacity":0},"encoding":{
"x":{"field":"v","type":"quantitative","scale":{"domain":[1023.1,1028.08],"nice":false,"zero":false},"axis":{"orient":"top","values":[1023.2,1023.4,1023.6,1023.8,1024,1024.2,1024.4,1024.6,1024.8,1025,1025.2,1025.4,1025.6,1025.8,1026,1026.2,1026.4,1026.6,1026.8,1027,1027.2,1027.4,1027.6,1027.8,1028],"labels":false,"tickSize":{"condition":{"test":"datum.value % 1 === 0","value":7},"value":4},"title":"CanESM2","titleX":155,"titleY":-8.5,"titleAlign":"center","titleBaseline":"alphabetic","titleAngle":0}},
"y":{"field":"d","type":"quantitative","scale":{"type":"pow","exponent":0.555,"domain":[0,4000],"reverse":true,"nice":false,"zero":false},"axis":{"orient":"right","values":[0,250,500,1000,2000,4000],"labels":false,"tickSize":8,"title":"40-60N,80W-0","titleX":0,"titleY":-8.5,"titleAlign":"right","titleBaseline":"alphabetic","titleAngle":0}}}},
{"mark":{"type":"point","opacity":0},"encoding":{
"x":{"field":"v","type":"quantitative","scale":{"domain":[1023.1,1028.08],"nice":false,"zero":false},"axis":{"orient":"top","domain":false,"ticks":false,"labels":false,"title":"PD (kg/m^3)","titleX":0,"titleY":-8.5,"titleAlign":"left","titleBaseline":"alphabetic","titleAngle":0}},
"y":{"field":"d","type":"quantitative","scale":{"type":"pow","exponent":0.555,"domain":[0,4000],"reverse":true,"nice":false,"zero":false},"axis":null}}}
]},
{"width":310,"height":153,"data":{"name":"J"},"resolve":{"axis":{"x":"independent","y":"independent"}},"layer":[
{"data":{"values":[{"v":0}]},"mark":{"type":"rule","strokeDash":[6,3],"strokeWidth":1,"color":"black"},"encoding":{
"x":{"field":"v","type":"quantitative","scale":{"domain":[-0.000009,0.0003],"nice":false,"zero":false},"axis":{"orient":"top","domain":false,"ticks":false,"labels":false,"title":"N2 (S^-1)","titleX":0,"titleY":-8.5,"titleAlign":"left","titleBaseline":"alphabetic","titleAngle":0}}}},
{"mark":{"type":"line","strokeWidth":2,"clip":true},"encoding":{
"x":{"field":"v","type":"quantitative","scale":{"domain":[-0.000009,0.0003],"nice":false,"zero":false},"axis":{"orient":"bottom","values":[0,0.00002,0.00004,0.00006,0.00008,0.0001,0.00012,0.00014,0.00016,0.00018,0.0002,0.00022,0.00024,0.00026,0.00028,0.0003],"labelExpr":"abs(datum.value*10000 - round(datum.value*10000)) < 1e-6 ? format(datum.value, '.5f') : ''","tickSize":{"condition":{"test":"abs(datum.value*10000 - round(datum.value*10000)) < 1e-6","value":7},"value":4},"labelPadding":6,"title":"J","titleX":-57,"titleY":-157.5,"titleAlign":"left","titleBaseline":"alphabetic","titleAngle":0,"titleFontSize":32}},
"y":{"field":"d","type":"quantitative","scale":{"type":"pow","exponent":0.555,"domain":[0,4000],"reverse":true,"nice":false,"zero":false},"axis":{"orient":"left","values":[0,250,500,1000,2000,4000],"format":"d","tickSize":8,"labelPadding":8,"title":null}},
"color":{"field":"s","type":"nominal","scale":{"domain":["PI","RCP26","RCP45","RCP60","RCP85"],"range":["#000000","#1414d4","#178a17","#7a0c0c","#f01414"]},"legend":null},
"order":{"field":"d","type":"quantitative"}}},
{"mark":{"type":"point","opacity":0},"encoding":{
"x":{"field":"v","type":"quantitative","scale":{"domain":[-0.000009,0.0003],"nice":false,"zero":false},"axis":{"orient":"top","values":[0,0.00002,0.00004,0.00006,0.00008,0.0001,0.00012,0.00014,0.00016,0.00018,0.0002,0.00022,0.00024,0.00026,0.00028,0.0003],"labels":false,"tickSize":{"condition":{"test":"abs(datum.value*10000 - round(datum.value*10000)) < 1e-6","value":7},"value":4},"title":"CanESM2","titleX":155,"titleY":-8.5,"titleAlign":"center","titleBaseline":"alphabetic","titleAngle":0}},
"y":{"field":"d","type":"quantitative","scale":{"type":"pow","exponent":0.555,"domain":[0,4000],"reverse":true,"nice":false,"zero":false},"axis":{"orient":"right","values":[0,250,500,1000,2000,4000],"labels":false,"tickSize":8,"title":"40-60N,80W-0","titleX":0,"titleY":-8.5,"titleAlign":"right","titleBaseline":"alphabetic","titleAngle":0}}}}
]}
]
}
